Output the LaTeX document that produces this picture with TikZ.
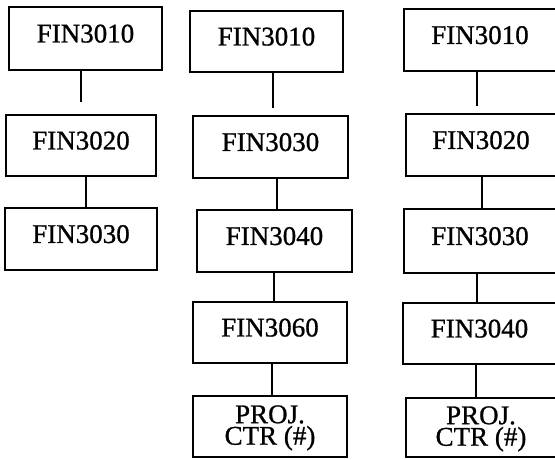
\documentclass[tikz,border=0pt]{standalone}
\usepackage{fontspec}
\setmainfont{Liberation Serif}
\newfontfamily\scanfont{Liberation Serif}[FakeBold=0.9]
\usetikzlibrary{calc}
\begin{document}
\begin{tikzpicture}[x=1pt,y=-1pt,
  course/.style={draw=black, line width=2.2pt, rectangle, inner sep=0pt,
    font=\scanfont\fontsize{27}{20}\selectfont, text depth=10pt, align=center},
  twoline/.style={font=\scanfont\fontsize{27}{21.5}\selectfont, text depth=3pt},
  link/.style={draw=black, line width=2.2pt}]
\useasboundingbox (0,0) rectangle (555,460);
% column 1
\node[course, minimum width=153pt, minimum height=63pt] (a1) at (85.5,38.5) {FIN3010};
\node[course, minimum width=150pt, minimum height=61pt] (a2) at (81,145.5) {FIN3020};
\node[course, minimum width=152pt, minimum height=62pt] (a3) at (81,239) {FIN3030};
% column 2
\node[course, minimum width=153pt, minimum height=61pt] (b1) at (266.5,41.5) {FIN3010};
\node[course, minimum width=155pt, minimum height=62pt] (b2) at (270.5,147) {FIN3030};
\node[course, minimum width=155pt, minimum height=62pt] (b3) at (274.5,241) {FIN3040};
\node[course, minimum width=154pt, minimum height=61pt] (b4) at (270,332.5) {FIN3060};
\node[course, twoline, minimum width=154pt, minimum height=61pt] (b5) at (270,426.5) {PROJ.\\CTR (\#)};
% column 3
\node[course, minimum width=152pt, minimum height=62pt] (c1) at (480,40) {FIN3010};
\node[course, minimum width=150pt, minimum height=62pt] (c2) at (481,145) {FIN3020};
\node[course, minimum width=152pt, minimum height=64pt] (c3) at (480,241) {FIN3030};
\node[course, minimum width=153pt, minimum height=61pt] (c4) at (479.5,333.5) {FIN3040};
\node[course, twoline, minimum width=150pt, minimum height=59pt] (c5) at (481,427.5) {PROJ.\\CTR (\#)};
% connectors
\coordinate (a12) at ($(a2.north)+(0,-12)$);
\draw[link] (a1.south -| a12) -- (a12);
\draw[link] ($(a2.south)+(5,0)$) -- ($(a3.north)+(5,0)$);
\coordinate (b12) at ($(b2.north)+(2.5,-7)$);
\draw[link] (b1.south -| b12) -- (b12);
\draw[link] ($(b2.south)+(6.5,0)$) -- ($(b3.north)+(2.5,0)$);
\draw[link] ($(b3.south)+(-0.5,0)$) -- ($(b4.north)+(4,0)$);
\draw[link] ($(b4.south)+(2,0)$) -- ($(b5.north)+(2,0)$);
\coordinate (c12) at ($(c2.north)+(-4,-7)$);
\draw[link] (c1.south -| c12) -- (c12);
\draw[link] ($(c2.south)+(1,0)$) -- ($(c3.north)+(2,0)$);
\draw[link] ($(c3.south)+(-3,0)$) -- ($(c4.north)+(-2.5,0)$);
\draw[link] ($(c4.south)+(-3.5,0)$) -- ($(c5.north)+(-5,0)$);
\end{tikzpicture}
\end{document}
